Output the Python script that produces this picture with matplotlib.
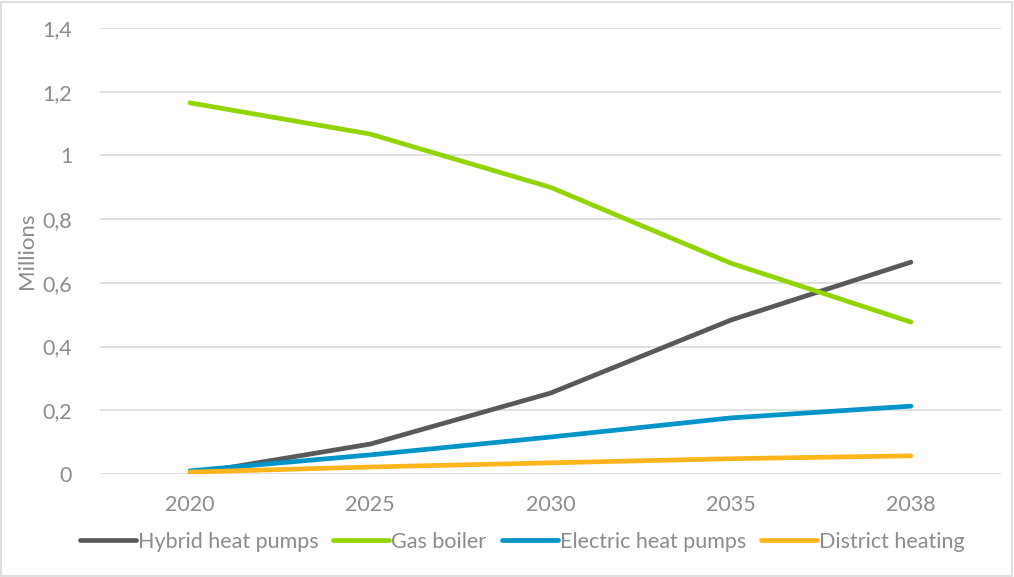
import matplotlib
matplotlib.use("Agg")
import matplotlib.pyplot as plt
from matplotlib.patches import Rectangle
from matplotlib.ticker import FuncFormatter

years = ["2020", "2025", "2030", "2035", "2038"]
hybrid = [0.0, 0.094, 0.254, 0.483, 0.665]
gas = [1.165, 1.067, 0.90, 0.662, 0.477]
electric = [0.01, 0.06, 0.116, 0.176, 0.213]
district = [0.006, 0.022, 0.035, 0.048, 0.057]

series = [
    ("Hybrid heat pumps", hybrid, "#595959"),
    ("Gas boiler", gas, "#92D400"),
    ("Electric heat pumps", electric, "#0094C8"),
    ("District heating", district, "#FFB51C"),
]

plt.rcParams['font.family'] = ['Lato', 'DejaVu Sans']
txt = "#8C8C8C"

fig = plt.figure(figsize=(10.14, 5.77), dpi=100)
ax = fig.add_axes([100/1014, 1-474/577, 901/1014, 446/577])

x = list(range(len(years)))
for name, vals, col in series:
    ax.plot(x, vals, color=col, lw=3.4, solid_capstyle='round', label=name, zorder=3)

ax.set_xlim(-0.5, len(years)-0.5)
ax.set_ylim(0, 1.4)
ax.set_yticks([0, 0.2, 0.4, 0.6, 0.8, 1.0, 1.2, 1.4])
ax.yaxis.set_major_formatter(FuncFormatter(lambda v, p: ("%g" % round(v, 2)).replace('.', ',')))
ax.set_xticks(x)
ax.set_xticklabels(years)
ax.grid(axis='y', color='#D9D9D9', lw=1.1, zorder=0)
ax.set_axisbelow(True)
for s in ax.spines.values():
    s.set_visible(False)
ax.tick_params(axis='both', length=0, colors=txt, labelsize=15.5)
ax.tick_params(axis='y', pad=20)
ax.tick_params(axis='x', pad=15)
ax.set_ylabel("Millions", color=txt, fontsize=16, labelpad=4)

leg = fig.legend(loc='center', bbox_to_anchor=(0.515, 1-542/577), ncol=4, frameon=False,
                 fontsize=15.5, handlelength=2.6, handletextpad=0.1, columnspacing=0.7)
for t in leg.get_texts():
    t.set_color(txt)

fig.patches.append(Rectangle((1/1014, 1/577), 1-3/1014, 1-3/577, transform=fig.transFigure,
                             fill=False, edgecolor='#D9D9D9', lw=1.2))

fig.savefig("out.png", dpi=100)
